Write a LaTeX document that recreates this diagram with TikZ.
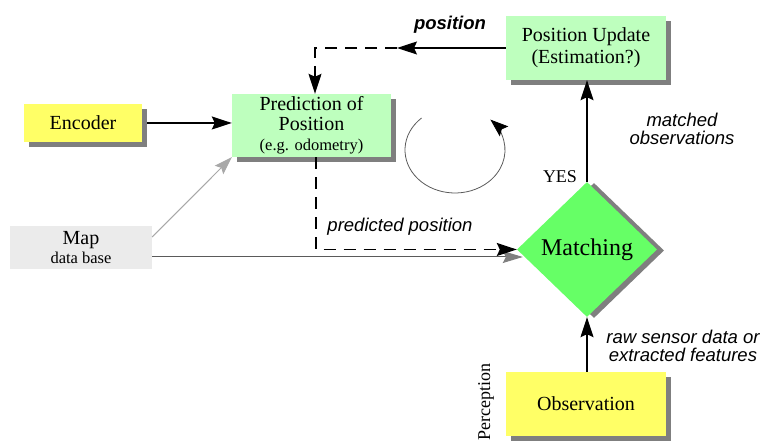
\documentclass[tikz,border=0pt]{standalone}
\usepackage{fontspec}
\setmainfont{Liberation Serif}
\setsansfont{Liberation Sans}
\usetikzlibrary{arrows.meta,shapes.geometric,shadows,calc}
\definecolor{yel}{HTML}{FFFF66}
\definecolor{lgreen}{HTML}{BEFFBE}
\definecolor{mgreen}{HTML}{66FF66}
\definecolor{mapgray}{HTML}{EBEBEB}
\definecolor{shadowgray}{HTML}{7F7F7F}
\definecolor{linkgray}{HTML}{A8A8A8}
\definecolor{darkline}{HTML}{5A5A5A}
\begin{document}
\begin{tikzpicture}[x=1pt,y=1pt,
  box/.style={rectangle,inner sep=0pt,font=\fontsize{20}{22}\selectfont,align=center},
  shbox/.style={box,drop shadow={shadow xshift=5pt,shadow yshift=-5pt,fill=shadowgray,opacity=1}},
  tip/.style={-{Stealth[length=20pt,width=13pt,inset=3pt]}},
  arr/.style={line width=1.2pt,tip},
  lbl/.style={font=\sffamily\itshape\fontsize{18.5}{18}\selectfont,align=center},
  dsh/.style={line width=1.2pt,dash pattern=on 12pt off 8pt},
]
\useasboundingbox (0,0) rectangle (764,443);
% boxes
\node[shbox,fill=yel,minimum width=118pt,minimum height=38pt] (enc) at (83,320) {Encoder};
\node[shbox,fill=lgreen,minimum width=159pt,minimum height=63pt,font=\fontsize{20}{20}\selectfont] (pred) at (311.5,317.5)
  {Prediction of\\Position\\{\fontsize{16.5}{17}\selectfont (e.g. odometry)}};
\node[box,fill=mapgray,minimum width=142pt,minimum height=43pt,font=\fontsize{20}{19}\selectfont] (map) at (81,195.5)
  {Map\\{\fontsize{16.5}{17}\selectfont data base}};
\node[shbox,fill=lgreen,minimum width=160pt,minimum height=64pt] (pu) at (586,395) {Position Update\\(Estimation?)};
\node[shbox,fill=yel,minimum width=160pt,minimum height=64pt] (obs) at (586,39) {Observation};
\node[diamond,inner sep=0pt,fill=mgreen,minimum width=140pt,minimum height=135pt,
  font=\fontsize{24}{26}\selectfont,
  drop shadow={shadow xshift=7pt,shadow yshift=-1pt,fill=shadowgray,opacity=1}] (match) at (587,193.5) {Matching};
% connectors
\draw[arr] ([xshift=5pt]enc.east) -- (enc.east -| pred.west);
\draw[line width=1pt,linkgray,-{Stealth[length=18pt,width=12pt,inset=3pt]}] ([yshift=10.5pt]map.east) -- (pred.south west);
\draw[line width=1pt,darkline,-{Stealth[length=20pt,width=12pt,inset=3pt,color=shadowgray]}]
  ([yshift=-9.5pt]map.east) -- ($(match.west)+(6,-7.5)$);
\draw[dsh,tip] ([xshift=4.5pt]pred.south) |- (match.west);
\coordinate (mid) at (397,395);
\draw[arr] (pu.west) -- (mid);
\draw[dsh,tip] (mid) -| ([xshift=3.5pt]pred.north);
\draw[arr] (match.north) -- (match.north |- pu.south);
\draw[arr] (match.south |- obs.north) -- (match.south);
% cycle arrow
\coordinate (cyc) at (455,293);
\draw[line width=0.8pt,darkline,-{Stealth[length=18pt,width=13pt,inset=3pt,color=black]}]
  ($(cyc)+(132:50pt and 43pt)$) arc[start angle=132,end angle=405,x radius=50pt,y radius=43pt];
% labels
\node[font=\sffamily\bfseries\itshape\fontsize{18.5}{18}\selectfont] (lpos) at (450,418) {position};
\node[lbl] (lpred) at (400,216) {predicted position};
\node[lbl] (lmatch) at (682,314) {matched\\observations};
\node[lbl] (lraw) at (683,97) {raw sensor data or\\extracted features};
\node[font=\fontsize{18}{18}\selectfont] (lyes) at (560,266) {YES};
\node[font=\fontsize{18}{18}\selectfont,rotate=90] (lperc) at (486,41) {Perception};
\end{tikzpicture}
\end{document}
